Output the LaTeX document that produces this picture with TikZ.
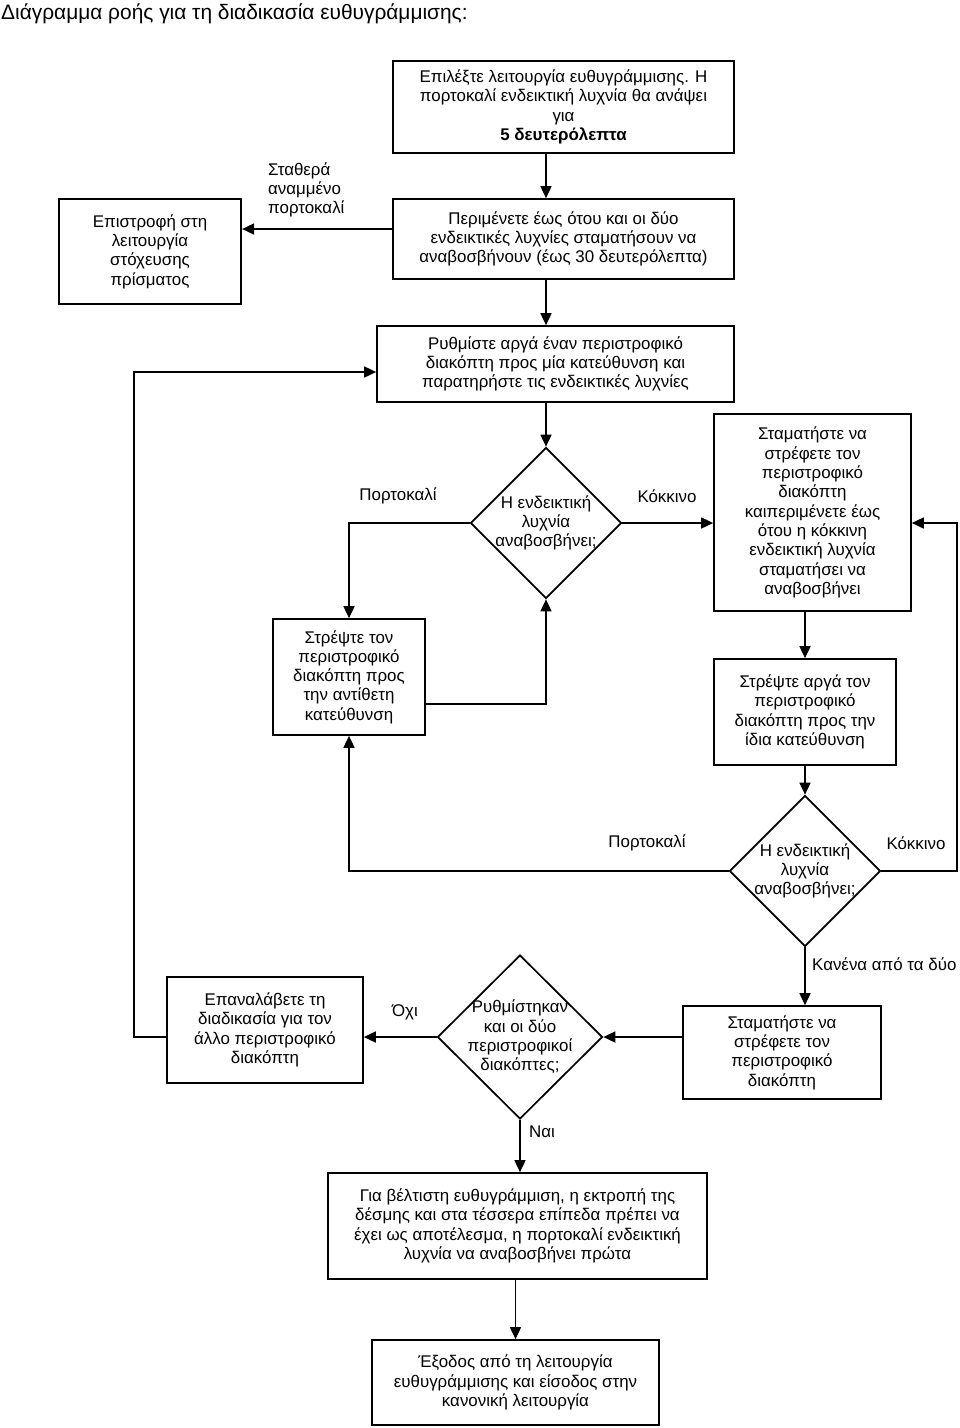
\documentclass[tikz,border=0pt]{standalone}
\usepackage{fontspec}
\setmainfont{Liberation Sans}
\usetikzlibrary{shapes.geometric,arrows.meta}
\begin{document}
\begin{tikzpicture}[x=1pt,y=-1pt,
  every node/.style={font=\fontsize{16.9}{19.3}\selectfont, inner sep=0pt},
  box/.style={draw, line width=1.7pt, align=center},
  dia/.style={draw, diamond, line width=1.7pt, inner sep=-40pt, align=center},
  arr/.style={line width=1.7pt, line join=miter, -{Triangle[length=12pt,width=11pt]}},
  ln/.style={line width=1.7pt, line join=miter}]
\useasboundingbox (0,0) rectangle (960,1428);

\node[anchor=west, font=\fontsize{20.9}{24}\selectfont] (title) at (1,14) {Διάγραμμα ροής για τη διαδικασία ευθυγράμμισης:};

\node[box, minimum width=341, minimum height=92] (b1) at (563.5,107) {Επιλέξτε λειτουργία ευθυγράμμισης. Η\\ πορτοκαλί ενδεικτική λυχνία θα ανάψει\\ για\\ \textbf{5 δευτερόλεπτα}};
\node[box, minimum width=341, minimum height=80] (b2) at (563.5,239) {Περιμένετε έως ότου και οι δύο\\ ενδεικτικές λυχνίες σταματήσουν να\\ αναβοσβήνουν (έως 30 δευτερόλεπτα)};
\node[box, minimum width=182.5, minimum height=105] (bR) at (150,251.5) {Επιστροφή στη\\ λειτουργία\\ στόχευσης\\ πρίσματος};
\node[box, minimum width=357, minimum height=76] (b3) at (555.5,364) {Ρυθμίστε αργά έναν περιστροφικό\\ διακόπτη προς μία κατεύθυνση και\\ παρατηρήστε τις ενδεικτικές λυχνίες};
\node[dia, minimum width=151, minimum height=151] (d1) at (546,523) {Η ενδεικτική\\ λυχνία\\ αναβοσβήνει;};
\node[box, minimum width=197, minimum height=197] (b5) at (812.5,512.5) {Σταματήστε να\\ στρέφετε τον\\ περιστροφικό\\ διακόπτη\\ καιπεριμένετε έως\\ ότου η κόκκινη\\ ενδεικτική λυχνία\\ σταματήσει να\\ αναβοσβήνει};
\node[box, minimum width=152, minimum height=116] (b4) at (349,677) {Στρέψτε τον\\ περιστροφικό\\ διακόπτη προς\\ την αντίθετη\\ κατεύθυνση};
\node[box, minimum width=182, minimum height=106] (b6) at (805,712) {Στρέψτε αργά τον\\ περιστροφικό\\ διακόπτη προς την\\ ίδια κατεύθυνση};
\node[dia, minimum width=151, minimum height=151] (d2) at (805,871) {Η ενδεικτική\\ λυχνία\\ αναβοσβήνει;};
\node[box, minimum width=198, minimum height=93] (b7) at (782,1052.5) {Σταματήστε να\\ στρέφετε τον\\ περιστροφικό\\ διακόπτη};
\node[dia, minimum width=165, minimum height=164] (d3) at (520,1037) {Ρυθμίστηκαν\\ και οι δύο\\ περιστροφικοί\\ διακόπτες;};
\node[box, minimum width=196, minimum height=106] (b8) at (265,1030) {Επαναλάβετε τη\\ διαδικασία για τον\\ άλλο περιστροφικό\\ διακόπτη};
\node[box, minimum width=379, minimum height=106] (b9) at (517.5,1226) {Για βέλτιστη ευθυγράμμιση, η εκτροπή της\\ δέσμης και στα τέσσερα επίπεδα πρέπει να\\ έχει ως αποτέλεσμα, η πορτοκαλί ενδεικτική\\ λυχνία να αναβοσβήνει πρώτα};
\node[box, minimum width=287, minimum height=85] (b10) at (515.5,1382.5) {Έξοδος από τη λειτουργία\\ ευθυγράμμισης και είσοδος στην\\ κανονική λειτουργία};

\node[anchor=west, align=left] (lS) at (268,190) {Σταθερά\\ αναμμένο\\ πορτοκαλί};
\node (lO1) at (398,496) {Πορτοκαλί};
\node (lK1) at (667,496) {Κόκκινο};
\node (lO2) at (647,843) {Πορτοκαλί};
\node (lK2) at (916,843) {Κόκκινο};
\node[anchor=west] (lN) at (812,964) {Κανένα από τα δύο};
\node (lNo) at (405,1012) {Όχι};
\node[anchor=west] (lY) at (529,1132) {Ναι};

\coordinate (rr) at (957,523);
\coordinate (ll) at (134,372);

\draw[arr] (b1.south -| d1.north) -- (b2.north -| d1.north);
\draw[arr] ([yshift=10pt]b2.west) -- ([yshift=10pt]b2.west -| bR.east);
\draw[arr] (b2.south -| d1.north) -- (b3.north -| d1.north);
\draw[arr] (b3.south -| d1.north) -- (d1.north);
\draw[arr] (d1.west) -| (b4.north);
\draw[arr] (d1.east) -- (d1.east -| b5.west);
\draw[arr] ([yshift=-27pt]b4.east) -| (d1.south);
\draw[arr] (b6.north |- b5.south) -- (b6.north);
\draw[arr] (b6.south) -- (d2.north);
\draw[arr] (d2.west) -| (b4.south);
\draw[arr] (d2.east) -| (rr) -- (rr -| b5.east);
\draw[arr] (d2.south) -- (d2.south |- b7.north);
\draw[arr] (d3.east -| b7.west) -- (d3.east);
\draw[arr] (d3.west) -- (d3.west -| b8.east);
\draw[arr] (d3.west -| b8.west) -- (d3.west -| ll) -- (ll) -- (ll -| b3.west);
\draw[arr] (d3.south) -- (d3.south |- b9.north);
\draw[arr] (b9.south -| b10.north) -- (b10.north);
\end{tikzpicture}
\end{document}
